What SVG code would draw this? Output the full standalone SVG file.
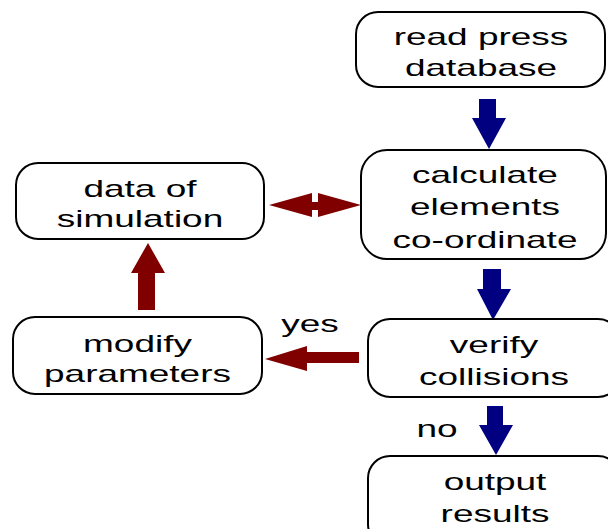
<svg xmlns="http://www.w3.org/2000/svg" width="608" height="529" viewBox="0 0 608 529">
<style>
.box{fill:#fff;stroke:#000;stroke-width:2}
.t{font-family:"Liberation Sans",Arial,sans-serif;font-size:24px;fill:#000;text-anchor:middle}
.blue{fill:#000080}
.red{fill:#800000}
</style>
<rect width="608" height="529" fill="#fff"/>
<g id="connectors">
<polygon class="blue" points="479,99 496,99 496,118 506,118 489,149 472,118 479,118"/>
<polygon class="blue" points="483,269 501,269 501,289 511,289 493,320 477,289 483,289"/>
<polygon class="blue" points="487,406 503,406 503,425 513,425 496,455 479,425 487,425"/>
<polygon class="red" points="148,243 165,273 155,273 155,310 138,310 138,273 131,273"/>
<polygon class="red" points="265,359 307,346 307,352 359,352 359,363 307,363 307,371"/>
<polygon class="red" points="269,205 312,193 312,202 318,202 318,193 361,205 318,217 318,210 312,210 312,217"/>
<text class="t" transform="translate(310,332) scale(1.54,1)">yes</text>
<text class="t" transform="translate(437,437) scale(1.54,1)">no</text>
</g>
<g id="read">
<rect class="box" x="356" y="12" width="249" height="75" rx="22"/>
<text class="t" transform="translate(481,45) scale(1.54,1)">read press</text>
<text class="t" transform="translate(481,76) scale(1.54,1)">database</text>
</g>
<g id="calculate">
<rect class="box" x="361" y="150" width="245" height="109" rx="26"/>
<text class="t" transform="translate(485,183) scale(1.54,1)">calculate</text>
<text class="t" transform="translate(485,215) scale(1.54,1)">elements</text>
<text class="t" transform="translate(485,248) scale(1.54,1)">co-ordinate</text>
</g>
<g id="data">
<rect class="box" x="16" y="163" width="248" height="76" rx="22"/>
<text class="t" transform="translate(140,197) scale(1.54,1)">data of</text>
<text class="t" transform="translate(140,227) scale(1.54,1)">simulation</text>
</g>
<g id="modify">
<rect class="box" x="13" y="317" width="249" height="77" rx="22"/>
<text class="t" transform="translate(137.5,352) scale(1.54,1)">modify</text>
<text class="t" transform="translate(137.5,382) scale(1.54,1)">parameters</text>
</g>
<g id="verify">
<rect class="box" x="368" y="319" width="252" height="78" rx="22"/>
<text class="t" transform="translate(494,353) scale(1.54,1)">verify</text>
<text class="t" transform="translate(494,385) scale(1.54,1)">collisions</text>
</g>
<g id="output">
<rect class="box" x="368" y="456" width="252" height="90" rx="22"/>
<text class="t" transform="translate(495,490) scale(1.54,1)">output</text>
<text class="t" transform="translate(495,522) scale(1.54,1)">results</text>
</g>
</svg>
